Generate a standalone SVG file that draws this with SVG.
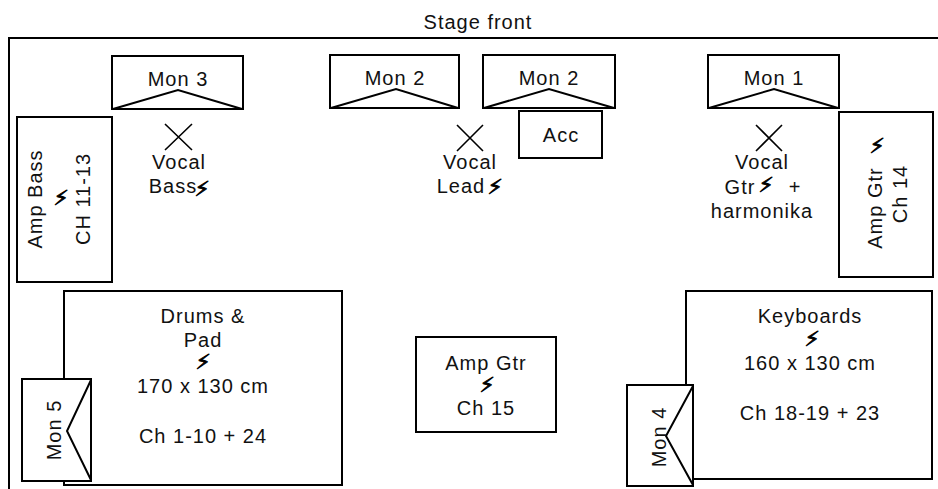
<svg xmlns="http://www.w3.org/2000/svg" width="938" height="489" viewBox="0 0 938 489">
<style>
.b{fill:#fff;stroke:#000;stroke-width:2}
.v{fill:none;stroke:#000;stroke-width:2}
.t{font-family:"Liberation Sans",Arial,sans-serif;font-size:20px;letter-spacing:1px;fill:#111;text-anchor:middle}
.z{font-family:"DejaVu Sans",sans-serif;font-size:21px;fill:#000;stroke:#000;stroke-width:0.9;text-anchor:middle}
.x{stroke:#000;stroke-width:1.6}
</style>
<rect width="938" height="489" fill="#fff"/>
<g id="stage">
<path class="v" d="M9,489 V38 H938"/>
<text class="t" x="478" y="29">Stage front</text>
</g>
<g id="mon3">
<rect class="b" x="112" y="56" width="131" height="53"/>
<path class="v" d="M113,109 L178,90 L242,109"/>
<text class="t" x="178" y="86">Mon 3</text>
</g>
<g id="mon2a">
<rect class="b" x="330" y="55" width="129" height="53"/>
<path class="v" d="M331,108 L396,89 L458,108"/>
<text class="t" x="395" y="85">Mon 2</text>
</g>
<g id="mon2b">
<rect class="b" x="483" y="55" width="132" height="53"/>
<path class="v" d="M484,108 L549,89 L614,108"/>
<text class="t" x="549" y="85">Mon 2</text>
</g>
<g id="mon1">
<rect class="b" x="708" y="55" width="131" height="53"/>
<path class="v" d="M709,108 L774,89 L838,108"/>
<text class="t" x="774" y="85">Mon 1</text>
</g>
<g id="acc">
<rect class="b" x="519" y="111" width="83" height="47"/>
<text class="t" x="561" y="142">Acc</text>
</g>
<g id="vocal-bass">
<path class="x" d="M165,124 L192,150 M192,124 L165,150"/>
<text class="t" x="179" y="169">Vocal</text>
<text class="t" x="173" y="193">Bass</text>
<text class="z" transform="translate(202,189) rotate(2) translate(0,7)">⚡</text>
</g>
<g id="vocal-lead">
<path class="x" d="M457,125 L483,151 M483,125 L457,151"/>
<text class="t" x="470" y="169">Vocal</text>
<text class="t" x="461" y="193">Lead</text>
<text class="z" transform="translate(495,187) rotate(2) translate(0,7)">⚡</text>
</g>
<g id="vocal-gtr">
<path class="x" d="M756,125 L782,151 M782,125 L756,151"/>
<text class="t" x="762" y="169">Vocal</text>
<text class="t" x="740" y="194">Gtr</text>
<text class="z" transform="translate(766,185) rotate(2) translate(0,7)">⚡</text>
<text class="t" x="795" y="194">+</text>
<text class="t" x="762" y="218">harmonika</text>
</g>
<g id="amp-bass">
<rect class="b" x="17" y="117" width="95" height="165"/>
<text class="t" transform="translate(42,199) rotate(-90)">Amp Bass</text>
<text class="z" transform="translate(61,198) rotate(2) translate(0,7)">⚡</text>
<text class="t" transform="translate(90,199) rotate(-90)">CH 11-13</text>
</g>
<g id="amp-gtr-14">
<rect class="b" x="839" y="112" width="94" height="165"/>
<text class="t" transform="translate(882,208) rotate(-90)">Amp Gtr</text>
<text class="z" transform="translate(877,146) rotate(2) translate(0,7)">⚡</text>
<text class="t" transform="translate(907,194) rotate(-90)">Ch 14</text>
</g>
<g id="drums">
<rect class="b" x="64" y="291" width="278" height="194"/>
<text class="t" x="203" y="323">Drums &amp;</text>
<text class="t" x="203" y="347">Pad</text>
<text class="z" transform="translate(203,362) rotate(2) translate(0,7)">⚡</text>
<text class="t" x="203" y="393">170 x 130 cm</text>
<text class="t" x="203" y="443" xml:space="preserve">Ch 1-10 + 24</text>
</g>
<g id="mon5">
<rect class="b" x="22" y="379" width="69" height="102"/>
<path class="v" d="M91,380 L67,431 L91,480"/>
<text class="t" transform="translate(61,430) rotate(-90)">Mon 5</text>
</g>
<g id="amp-gtr-15">
<rect class="b" x="416" y="337" width="140" height="95"/>
<text class="t" x="486" y="370">Amp Gtr</text>
<text class="z" transform="translate(487,385) rotate(2) translate(0,7)">⚡</text>
<text class="t" x="486" y="415">Ch 15</text>
</g>
<g id="keyboards">
<rect class="b" x="686" y="291" width="246" height="188"/>
<text class="t" x="810" y="323">Keyboards</text>
<text class="z" transform="translate(812,339) rotate(2) translate(0,7)">⚡</text>
<text class="t" x="810" y="370">160 x 130 cm</text>
<text class="t" x="810" y="420">Ch 18-19 + 23</text>
</g>
<g id="mon4">
<rect class="b" x="627" y="385" width="66" height="101"/>
<path class="v" d="M693,386 L666,436 L693,485"/>
<text class="t" transform="translate(666,437) rotate(-90)">Mon 4</text>
</g>
<g id="connectors"/>
</svg>
